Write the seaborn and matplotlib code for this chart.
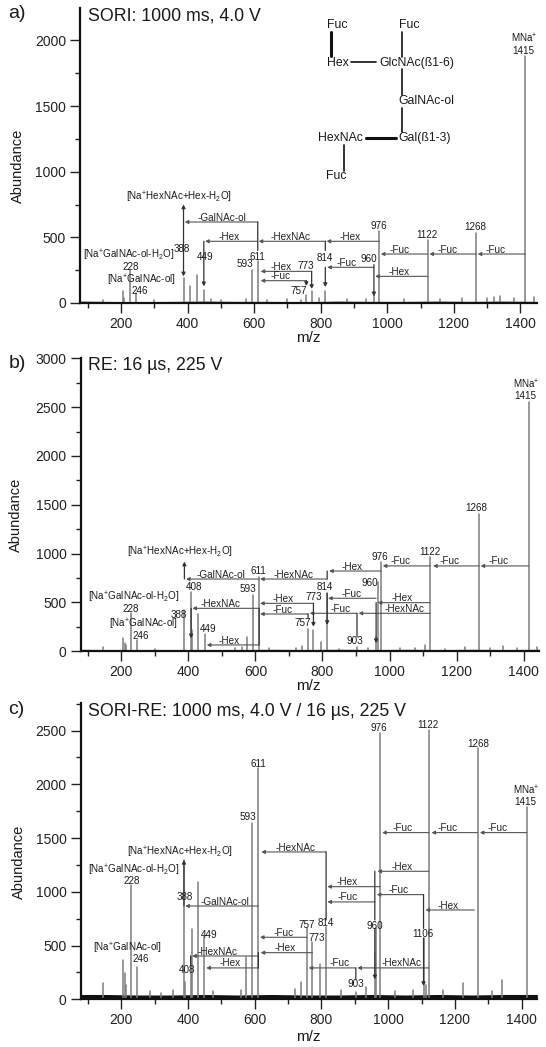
import numpy as np
import pandas as pd
import matplotlib
matplotlib.use("Agg")
import matplotlib.pyplot as plt
from matplotlib.ticker import MultipleLocator
import seaborn as sns

sns.set_theme(style="ticks")
plt.rcParams["font.family"] = ["Liberation Sans", "DejaVu Sans"]
plt.rcParams["mathtext.fontset"] = "custom"
plt.rcParams["mathtext.rm"] = "Liberation Sans"
plt.rcParams["mathtext.default"] = "regular"

# ---------- peaks ----------
peaks_a_mz = [145, 205, 208, 228, 246, 300, 388, 408, 430, 449, 470, 500, 575, 593, 611, 640, 700, 740, 757, 773, 795, 814, 880, 935, 960, 976, 1050, 1122, 1160, 1225, 1268, 1300, 1320, 1340, 1380, 1415, 1440]
peaks_a_ab = [20, 89, 40, 254, 76, 25, 190, 127, 215, 100, 30, 25, 30, 254, 317, 25, 30, 25, 60, 90, 40, 90, 30, 30, 60, 546, 30, 482, 30, 35, 533, 35, 45, 55, 40, 1878, 45]
peaks_b_mz = [145, 205, 210, 215, 228, 246, 300, 388, 408, 412, 430, 449, 540, 560, 575, 593, 611, 640, 720, 740, 757, 773, 795, 814, 850, 903, 935, 960, 965, 976, 1030, 1075, 1105, 1122, 1165, 1225, 1268, 1300, 1340, 1380, 1415, 1440]
peaks_b_ab = [40, 133, 90, 60, 389, 116, 20, 423, 611, 218, 379, 177, 30, 40, 150, 577, 765, 30, 30, 50, 225, 218, 100, 594, 25, 48, 30, 150, 713, 918, 30, 30, 60, 969, 25, 40, 1406, 30, 50, 30, 2556, 40]
peaks_c_mz = [145, 205, 210, 215, 228, 246, 285, 320, 355, 388, 392, 408, 412, 430, 449, 475, 560, 575, 593, 611, 720, 740, 757, 773, 795, 814, 860, 903, 935, 960, 965, 976, 1020, 1075, 1106, 1112, 1122, 1165, 1223, 1268, 1310, 1340, 1415]
peaks_c_ab = [155, 366, 248, 130, 1064, 304, 75, 60, 90, 1297, 160, 400, 655, 1095, 583, 80, 90, 397, 1644, 2150, 100, 164, 660, 537, 329, 676, 90, 70, 110, 428, 660, 2475, 80, 90, 570, 130, 2506, 85, 150, 2336, 80, 180, 1787]

# ---------- baseline noise ----------
base_mz = [78, 150, 250, 350, 450, 550, 650, 750, 850, 950, 1050, 1150, 1250, 1350, 1447]
base_a_ab = [14, 12, 10, 12, 14, 12, 12, 10, 14, 12, 12, 14, 12, 14, 12]
base_b_ab = [20, 18, 16, 18, 16, 18, 20, 18, 20, 18, 20, 18, 20, 18, 20]
base_c_ab = [45, 45, 40, 40, 45, 40, 45, 40, 40, 45, 40, 45, 40, 45, 45]

# ---------- fragment arrows (from, tip, abundance, name, label centre) ----------
arr_a_from = [1415, 1268, 1122, 1122, 976, 814, 611, 611, 960, 773, 757]
arr_a_tip = [1272, 1127, 981, 964, 818, 614, 453, 392, 820, 620, 620]
arr_a_y = [373, 373, 373, 203, 470, 470, 470, 617, 272, 241, 170]
arr_a_name = ["-Fuc", "-Fuc", "-Fuc", "-Hex", "-Hex", "-HexNAc", "-Hex", "-GalNAc-ol", "-Fuc", "-Hex", "-Fuc"]
arr_a_lab = [1327, 1182, 1037, 1037, 890, 710, 526, 505, 878, 681, 681]

arr_b_from = [1415, 1268, 1122, 976, 814, 611, 611, 611, 773, 757, 960, 1122, 903, 1122]
arr_b_tip = [1272, 1130, 980, 820, 614, 393, 412, 455, 614, 614, 817, 965, 762, 908]
arr_b_y = [874, 874, 874, 822, 740, 740, 440, 65, 491, 382, 543, 498, 389, 389]
arr_b_name = ["-Fuc", "-Fuc", "-Fuc", "-Hex", "-HexNAc", "-GalNAc-ol", "-HexNAc", "-Hex", "-Hex", "-Fuc", "-Fuc", "-Hex", "-Fuc", "-HexNAc"]
arr_b_lab = [1325, 1180, 1034, 888, 715, 496, 496, 522, 684, 682, 888, 1037, 853, 1045]

arr_c_from = [1415, 1268, 1122, 814, 1122, 976, 960, 1106, 1258, 611, 757, 773, 611, 611, 903, 1122]
arr_c_tip = [1275, 1130, 982, 620, 968, 818, 818, 966, 1112, 392, 616, 618, 413, 455, 762, 908]
arr_c_y = [1551, 1551, 1551, 1371, 1191, 1048, 906, 974, 831, 868, 577, 434, 403, 292, 292, 292]
arr_c_name = ["-Fuc", "-Fuc", "-Fuc", "-HexNAc", "-Hex", "-Hex", "-Fuc", "-Fuc", "-Hex", "-GalNAc-ol", "-Fuc", "-Hex", "-HexNAc", "-Hex", "-Fuc", "-HexNAc"]
arr_c_lab = [1327, 1179, 1042, 722, 1043, 878, 878, 1030, 1181, 510, 688, 690, 489, 527, 855, 1040]

# ---------- vertical connectors (mz, y start, y end, head 1/0) ----------
vert_a_mz = [388, 388, 449, 611, 814, 814, 773, 757, 960]
vert_a_y0 = [617, 617, 470, 617, 470, 272, 241, 170, 292]
vert_a_y1 = [750, 203, 127, 400, 400, 122, 107, 130, 51]
vert_a_head = [1, 1, 1, 0, 0, 1, 1, 1, 1]

vert_b_mz = [388, 408, 611, 773, 757, 814, 814, 960, 903]
vert_b_y0 = [740, 440, 440, 491, 382, 740, 594, 498, 389]
vert_b_y1 = [918, 133, 65, 252, 340, 822, 270, 83, 150]
vert_b_head = [1, 1, 0, 1, 0, 0, 1, 1, 0]

vert_c_mz = [814, 960, 1106, 408, 611, 903, 960, 1106, 388]
vert_c_y0 = [1371, 1191, 974, 403, 434, 292, 660, 570, 868]
vert_c_y1 = [738, 738, 660, 320, 292, 186, 186, 124, 1297]
vert_c_head = [0, 0, 0, 0, 0, 0, 1, 1, 1]

# ---------- axes ----------
titles = ["SORI: 1000 ms, 4.0 V", "RE: 16 \u00b5s, 225 V", "SORI-RE: 1000 ms, 4.0 V / 16 \u00b5s, 225 V"]
panel_names = ["a)", "b)", "c)"]
ylims = [2247, 3000, 2754]
xlims = [(77, 1450), (78, 1446), (78, 1446)]
ylabel_font = 10.5
HEAD = "-|>,head_width=0.09,head_length=0.17"

W, H = 546, 1047
fig = plt.figure(figsize=(W / 100, H / 100), dpi=100, facecolor="white")
boxes = [(80, 537, 8, 303), (80.5, 539, 358.3, 651.3), (80.5, 537, 703.3, 999.3)]


def draw_panel(i, mz, ab, base, afrom, atip, ay, aname, alab, vx, v0, v1, vh):
    l, r, t, b = boxes[i]
    ax = fig.add_axes([l / W, 1 - b / H, (r - l) / W, (b - t) / H], facecolor="none")
    df = pd.DataFrame({
        "mz": np.repeat(mz, 2),
        "ab": np.column_stack([np.zeros(len(ab)), ab]).ravel(),
        "peak": np.repeat(np.arange(len(mz)), 2),
    })
    sns.lineplot(data=df, x="mz", y="ab", units="peak", estimator=None, color="#7d7d7d",
                 lw=1.1, legend=False, ax=ax, sort=False)
    ax.fill_between(base_mz, 0, base, color="#111111", lw=0)
    for a, tp, y, nm, lx in zip(afrom, atip, ay, aname, alab):
        ax.annotate("", xy=(tp, y), xytext=(a, y),
                    arrowprops=dict(arrowstyle=HEAD, color="#555555",
                                    lw=0.8, shrinkA=0, shrinkB=0))
        ax.annotate(nm, xy=(lx, y), xytext=(0, 3.2), textcoords="offset points", ha="center", va="center",
                    fontsize=7.2, color="#222222")
    for x, y0, y1, hd in zip(vx, v0, v1, vh):
        style = HEAD if hd else "-"
        ax.annotate("", xy=(x, y1), xytext=(x, y0),
                    arrowprops=dict(arrowstyle=style, color="#333333", lw=0.9, shrinkA=0, shrinkB=0))
    ax.set_xlim(*xlims[i])
    ax.set_ylim(0, ylims[i])
    ax.xaxis.set_major_locator(MultipleLocator(200))
    ax.xaxis.set_minor_locator(MultipleLocator(100))
    ax.yaxis.set_major_locator(MultipleLocator(500))
    ax.yaxis.set_minor_locator(MultipleLocator(250))
    ax.tick_params(axis="both", which="major", length=7, width=1.0, labelsize=10, color="#222222", labelcolor="#222222", pad=3)
    ax.tick_params(axis="both", which="minor", length=3.5, width=1.0, color="#222222")
    ax.set_xlabel("")
    ax.set_ylabel("")
    sns.despine(ax=ax)
    for s in ("left", "bottom"):
        ax.spines[s].set_linewidth(1.6)
        ax.spines[s].set_color("#111111")
    return ax


draw_panel(0, peaks_a_mz, peaks_a_ab, base_a_ab, arr_a_from, arr_a_tip, arr_a_y, arr_a_name, arr_a_lab,
           vert_a_mz, vert_a_y0, vert_a_y1, vert_a_head)
draw_panel(1, peaks_b_mz, peaks_b_ab, base_b_ab, arr_b_from, arr_b_tip, arr_b_y, arr_b_name, arr_b_lab,
           vert_b_mz, vert_b_y0, vert_b_y1, vert_b_head)
draw_panel(2, peaks_c_mz, peaks_c_ab, base_c_ab, arr_c_from, arr_c_tip, arr_c_y, arr_c_name, arr_c_lab,
           vert_c_mz, vert_c_y0, vert_c_y1, vert_c_head)


def txt(px, py, s, size=7, **kw):
    kw.setdefault("ha", "center")
    kw.setdefault("va", "center")
    kw.setdefault("color", "#1a1a1a")
    fig.text(px / W, 1 - py / H, s, fontsize=size, **kw)


# text given in pixels of the page
ZX = 546 / 1560
crop_tops = [0, 340, 690]
HN = "[Na$^{+}$HexNAc+Hex-H$_{2}$O]"
GW = "[Na$^{+}$GalNAc-ol-H$_{2}$O]"
GO = "[Na$^{+}$GalNAc-ol]"
MN = "MNa$^{+}$"
label_a = [(512, 592, HN), (520, 746, "388"), (586, 770, "449"), (735, 770, "611"), (700, 793, "593"),
           (875, 797, "773"), (928, 773, "814"), (1055, 777, "960"), (1082, 677, "976"), (1220, 704, "1122"),
           (1358, 682, "1268"), (1497, 115, MN), (1495, 153, "1415"), (367, 765, GW), (372, 800, "228"),
           (403, 840, GO), (398, 872, "246"), (853, 872, "757")]
label_b = [(1503, 134, MN), (1500, 167, "1415"), (1362, 505, "1268"), (1227, 635, "1122"), (1086, 650, "976"),
           (1058, 730, "960"), (737, 692, "611"), (707, 748, "593"), (555, 740, "408"), (928, 741, "814"),
           (895, 772, "773"), (512, 825, "388"), (594, 868, "449"), (865, 850, "757"), (1014, 903, "903"),
           (515, 637, HN), (383, 771, GW), (372, 808, "228"), (410, 852, GO), (403, 889, "246")]
label_c = [(1503, 300, MN), (1502, 336, "1415"), (1365, 162, "1268"), (1222, 104, "1122"), (1082, 114, "976"),
           (738, 223, "611"), (707, 382, "593"), (527, 622, "388"), (597, 735, "449"), (877, 704, "757"),
           (932, 699, "814"), (905, 744, "773"), (1070, 708, "960"), (1208, 731, "1106"), (533, 841, "408"),
           (1016, 882, "903"), (515, 488, HN), (383, 541, GW), (375, 574, "228"), (365, 774, GO), (403, 808, "246")]
for top, labs in zip(crop_tops, [label_a, label_b, label_c]):
    for cx, cy, s in labs:
        txt(cx * ZX, top + cy / 3, s, 7.1)

for top, cx, cy, s in [(0, 250, 48, titles[0]), (340, 250, 75, titles[1]), (690, 250, 65, titles[2])]:
    txt(cx * ZX, top + cy / 3, s, 12.8, ha="left")
for top, cx, cy, s in [(0, 48, 42, panel_names[0]), (340, 50, 70, panel_names[1]), (690, 47, 58, panel_names[2])]:
    txt(cx * ZX, top + cy / 3, s, 14)
for top, cx, cy in [(0, 52, 497), (340, 45, 525), (690, 55, 515)]:
    txt(cx * ZX, top + cy / 3, "Abundance", ylabel_font, rotation=90)
for py in [338, 686, 1037]:
    txt(882 * ZX, py, "m/z", 11)

# structure scheme in panel a
scheme_names = ["Fuc", "Fuc", "Hex", "GlcNAc(\u00df1-6)", "GalNAc-ol", "HexNAc", "Gal(\u00df1-3)", "Fuc"]
scheme_x = [965, 1168, 965, 1192, 1218, 974, 1212, 962]
scheme_y = [76, 76, 190, 190, 303, 415, 415, 527]
for cx, cy, s in zip(scheme_x, scheme_y, scheme_names):
    txt(cx * ZX, cy / 3, s, 8.8)
bond_x0 = [945, 1148, 1003, 1148, 1148, 1045, 983]
bond_x1 = [945, 1148, 1075, 1148, 1148, 1130, 983]
bond_y0 = [97, 97, 187, 208, 325, 413, 435]
bond_y1 = [168, 172, 187, 285, 395, 413, 512]
bond_w = [2.2, 1.2, 1.2, 1.2, 1.2, 2.2, 1.2]
for x0, x1, y0, y1, w in zip(bond_x0, bond_x1, bond_y0, bond_y1, bond_w):
    fig.add_artist(plt.Line2D([x0 * ZX / W, x1 * ZX / W], [1 - y0 / 3 / H, 1 - y1 / 3 / H], color="#111111", lw=w))

fig.savefig("out.png", dpi=100)
